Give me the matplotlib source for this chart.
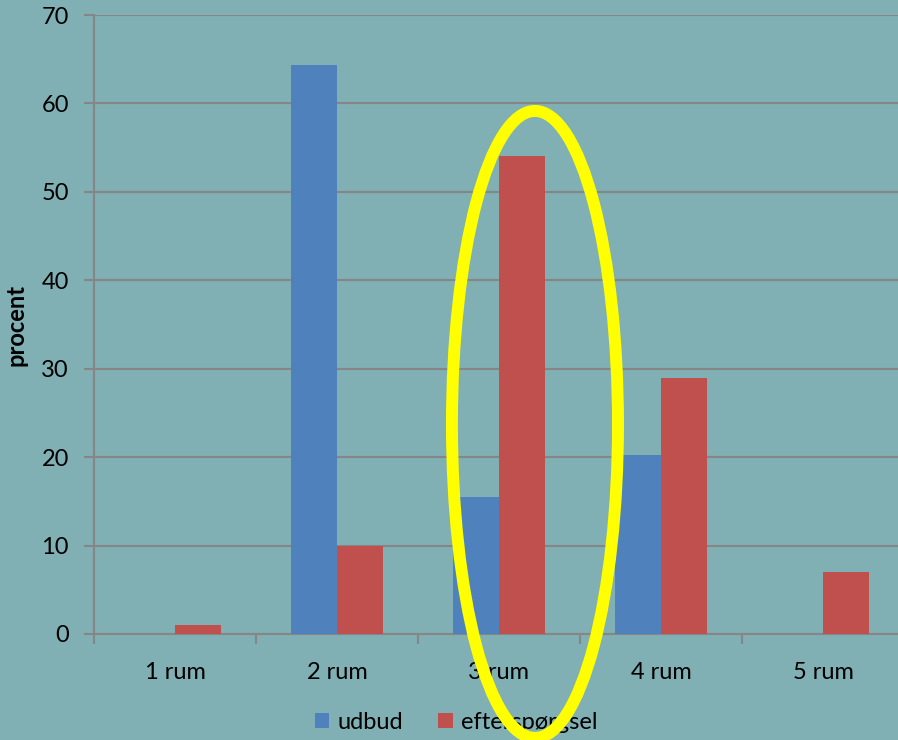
# -*- coding: utf-8 -*-
# udbud vs. efterspørgsel fordelt på antal rum

import numpy as np
import matplotlib.pyplot as plt
from matplotlib.patches import Ellipse

# data
rum = ['1 rum', '2 rum', '3 rum', '4 rum', '5 rum']
udbud = [0, 64.3, 15.5, 20.2, 0]
efterspoergsel = [1, 10, 54, 29, 7]

bg = '#80AFB4'
grid_col = '#868686'
plt.rcParams['font.family'] = ['Lato', 'DejaVu Sans']

fig = plt.figure(figsize=(8.98, 7.40), dpi=100, facecolor=bg)
ax = fig.add_axes([94/898, 106/740, 810/898, 619/740])
ax.set_facecolor(bg)

x = np.arange(len(rum))
w = 0.284
ax.bar(x - w/2, udbud, w, color='#4F81BD', label='udbud', zorder=3)
ax.bar(x + w/2, efterspoergsel, w, color='#C0504D', label='efterspørgsel', zorder=3)

ax.set_xlim(-0.5, 4.5)
ax.set_ylim(0, 70)
ax.set_yticks(range(0, 71, 10))
ax.yaxis.grid(True, color=grid_col, linewidth=1.5, zorder=0)
ax.set_axisbelow(True)

# category labels in the middle, tick marks on the boundaries
ax.set_xticks(x)
ax.set_xticklabels(rum)
ax.set_xticks(np.arange(-0.5, 5.0, 1.0), minor=True)
ax.tick_params(axis='x', which='major', length=0, pad=20, labelsize=17)
ax.tick_params(axis='x', which='minor', length=7, width=1.5, color=grid_col)
ax.tick_params(axis='y', length=7, width=1.5, color=grid_col, labelsize=17, pad=11)

for s in ['top', 'right']:
    ax.spines[s].set_visible(False)
for s in ['left', 'bottom']:
    ax.spines[s].set_color(grid_col)
    ax.spines[s].set_linewidth(1.5)

ax.set_ylabel('procent', fontsize=17, fontweight='bold')
ax.yaxis.set_label_coords(-66/810, 0.5)

fig.legend(loc='center', bbox_to_anchor=(0.508, 0.024), ncol=2, frameon=False,
           fontsize=17, handlelength=0.6, handleheight=0.6, handletextpad=0.35,
           columnspacing=1.5)

# gul ring om 3 rum
ring = Ellipse((2.222, 23.7), 1.025, 70.9, transform=ax.transData, fill=False,
               edgecolor='#FFFF00', linewidth=8.6, zorder=10, clip_on=False)
fig.add_artist(ring)

plt.savefig('out.png', dpi=100, facecolor=bg)
